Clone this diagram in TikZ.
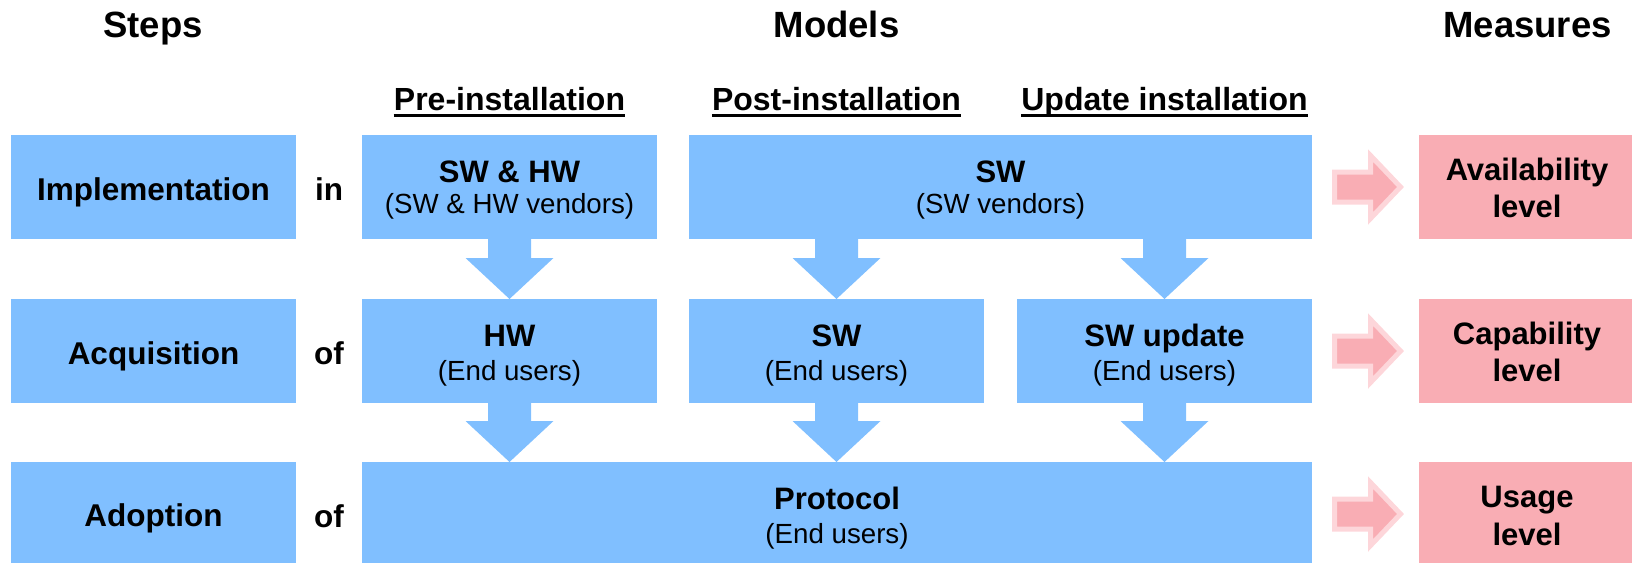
\documentclass[tikz,border=0pt]{standalone}
\usepackage{fontspec}
\setmainfont{Liberation Sans}
\usetikzlibrary{calc}
\definecolor{boxblue}{RGB}{128,191,255}
\definecolor{boxpink}{RGB}{249,173,180}
\definecolor{lightpink}{RGB}{253,214,218}
\tikzset{
  bbox/.style={fill=boxblue, inner sep=0, outer sep=0, minimum height=104},
  pbox/.style={fill=boxpink, inner sep=0, outer sep=0, minimum height=104, minimum width=216},
  hdr/.style={font=\fontsize{36.5}{40}\selectfont\bfseries, anchor=base, inner sep=0},
  subhdr/.style={font=\fontsize{32}{36}\selectfont\bfseries, anchor=base, inner sep=0},
  bld/.style={font=\fontsize{31}{34}\selectfont\bfseries, anchor=base, inner sep=0},
  lbl/.style={font=\fontsize{31.5}{34}\selectfont\bfseries, anchor=base, inner sep=0},
  rg/.style={font=\fontsize{27.7}{30}\selectfont, anchor=base, inner sep=0},
  uline/.style={line width=2.6pt},
  redarrow/.style={fill=boxpink, draw=lightpink, line width=5pt, line join=miter},
}
% #1 x-reference node, #2 source node, #3 target node
\newcommand\blkarrow[3]{%
  \fill[boxblue] let \p1=(#1 |- #2.south), \p2=(#1 |- #3.north) in
    (\x1-21.5pt,\y1+0.5pt) -- (\x1-21.5pt,\y2+41pt) -- (\x1-44pt,\y2+41pt) --
    (\x2,\y2) -- (\x1+44pt,\y2+41pt) -- (\x1+21.5pt,\y2+41pt) --
    (\x1+21.5pt,\y1+0.5pt) -- cycle;}
% #1 source node, #2 target node
\newcommand\pinkarrow[2]{%
  \path[redarrow] let \p1=(#1.east |- #2.west), \p2=(#2.west) in
    (\x1+22.5pt,\y2+15pt) -- (\x2-48.5pt,\y2+15pt) -- (\x2-48.5pt,\y2+31.5pt) --
    (\x2-18.5pt,\y2) -- (\x2-48.5pt,\y2-31.5pt) -- (\x2-48.5pt,\y2-15pt) --
    (\x1+22.5pt,\y2-15pt) -- cycle;}
\begin{document}
\begin{tikzpicture}[x=1pt,y=-1pt]
\useasboundingbox (0,0) rectangle (1632,562);
\begin{scope}
\clip (0,0) rectangle (1632,562);
% headers
\node[hdr] (steps) at (153,37) {Steps};
\node[hdr] (models) at (836.5,37) {Models};
\node[hdr] (measures) at (1527.5,37) {Measures};
\node[subhdr] (pre) at (509.5,110) {Pre-installation};
\node[subhdr] (post) at (836.5,110) {Post-installation};
\node[subhdr] (upd) at (1164.5,110) {Update installation};
\foreach \n in {pre,post,upd}
  \draw[uline] ([yshift=-5.5pt]\n.base west) -- ([yshift=-5.5pt]\n.base east);
% step boxes
\node[bbox, minimum width=285] (impl) at (153.5,187) {};
\node[bbox, minimum width=285] (acq) at (153.5,351) {};
\node[bbox, minimum width=285] (adop) at (153.5,514) {};
\node[lbl] (implt) at (153.5,200) {Implementation};
\node[lbl] (acqt) at (153.5,364) {Acquisition};
\node[lbl] (adopt) at (153.5,526) {Adoption};
\node[lbl] (in1) at (329,200) {in};
\node[lbl] (of1) at (329,364) {of};
\node[lbl] (of2) at (329,527) {of};
% model boxes
\node[bbox, minimum width=295] (swhw) at (509.5,187) {};
\node[bbox, minimum width=623] (swv) at (1000.5,187) {};
\node[bbox, minimum width=295] (hw) at (509.5,351) {};
\node[bbox, minimum width=295] (sw) at (836.5,351) {};
\node[bbox, minimum width=295] (swu) at (1164.5,351) {};
\node[bbox, minimum width=950] (prot) at (837,514) {};
\node[bld] (swhwt) at (509.5,182) {SW \& HW};
\node[rg] (swhws) at (509.5,213) {(SW \& HW vendors)};
\node[bld] (swvt) at (1000.5,182) {SW};
\node[rg] (swvs) at (1000.5,213) {(SW vendors)};
\node[bld] (hwt) at (509.5,346) {HW};
\node[rg] (hws) at (509.5,380) {(End users)};
\node[bld] (swt) at (836.5,346) {SW};
\node[rg] (sws) at (836.5,380) {(End users)};
\node[bld] (swut) at (1164.5,346) {SW update};
\node[rg] (swus) at (1164.5,380) {(End users)};
\node[bld] (prott) at (837,509) {Protocol};
\node[rg] (prots) at (837,543) {(End users)};
% block arrows
\blkarrow{swhw}{swhw}{hw}
\blkarrow{sw}{swv}{sw}
\blkarrow{swu}{swv}{swu}
\blkarrow{hw}{hw}{prot}
\blkarrow{sw}{sw}{prot}
\blkarrow{swu}{swu}{prot}
% measures
\node[pbox] (avail) at (1527,187) {};
\node[pbox] (capab) at (1527,351) {};
\node[pbox] (usage) at (1527,514) {};
\node[bld] (availt) at (1527,180) {Availability};
\node[bld] (availl) at (1527,217) {level};
\node[bld] (capabt) at (1527,344) {Capability};
\node[bld] (capabl) at (1527,381) {level};
\node[bld] (usaget) at (1527,507) {Usage};
\node[bld] (usagel) at (1527,545) {level};
\pinkarrow{swv}{avail}
\pinkarrow{swu}{capab}
\pinkarrow{prot}{usage}
\end{scope}
\end{tikzpicture}
\end{document}
